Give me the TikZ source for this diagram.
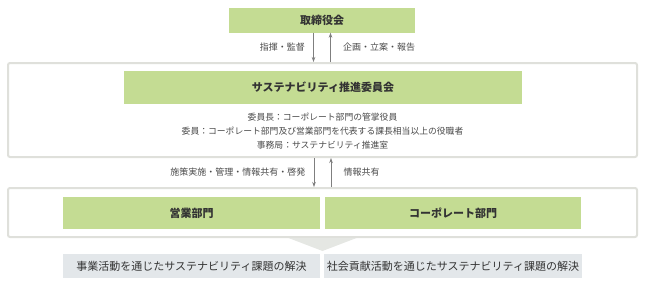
\documentclass[tikz,border=0pt]{standalone}
\usepackage{fontspec}
\setmainfont{Noto Sans CJK JP}
\usepackage{xcolor}
\usepackage{tikz}
\usetikzlibrary{arrows.meta, positioning, calc}
\definecolor{sustgreen}{HTML}{C4DC93}
\definecolor{sustframe}{HTML}{DFE0DB}
\definecolor{sustgray}{HTML}{E3E7EA}
\definecolor{sustwedge}{HTML}{E5E7E3}
\definecolor{sustarrow}{HTML}{7F7F7F}
\definecolor{susttext}{HTML}{333333}
\definecolor{sustbody}{HTML}{4A4A4A}

\begin{document}
\begin{tikzpicture}[
  x=1pt, y=-1pt,
  head/.style={fill=sustgreen, minimum height=33pt, inner sep=1mm, font=\fontsize{11}{13}\selectfont\bfseries, text=susttext},
  frame/.style={draw=sustframe, line width=2pt, rounded corners=2pt, fill=white, minimum width=629pt},
  result/.style={fill=sustgray, minimum width=256pt, minimum height=24pt, inner sep=1mm, font=\fontsize{11}{13}\selectfont, text=susttext},
  arr/.style={-{Stealth[length=5pt, width=3.5pt]}, sustarrow, line width=0.6pt},
  lbl/.style={font=\fontsize{9}{11}\selectfont, text=sustbody}
]
\useasboundingbox (0,0) rectangle (645,287);

\node[head, minimum width=186pt, minimum height=25pt] (board) at (322,20) {取締役会};

\node[frame, minimum height=94pt] (upper) at (322.5,110) {};
\node[head, minimum width=398pt] (committee) at (323,87.5) {サステナビリティ推進委員会};
\node[lbl, align=center, font=\fontsize{8.8}{14}\selectfont] (members) at (322.5,131) {委員長：コーポレート部門の管掌役員\\ 委員：コーポレート部門及び営業部門を代表する課長相当以上の役職者\\ 事務局：サステナビリティ推進室};

\node[frame, minimum height=49pt] (lower) at (322.5,212.5) {};
\node[head, minimum width=257pt, minimum height=32pt] (sales) at (191.5,213) {営業部門};
\node[head, minimum width=256pt, minimum height=32pt] (corporate) at (453,213) {コーポレート部門};

\fill[sustwedge] ($(lower.south)+(-34,0)$) -- ($(lower.south)+(34,0)$) -- ($(lower.south)+(0,13)$) -- cycle;

\node[result, minimum width=257pt] (business) at (191.5,266) {事業活動を通じたサステナビリティ課題の解決};
\node[result] (social) at (453,266) {社会貢献活動を通じたサステナビリティ課題の解決};

\draw[arr] ([xshift=-8.5pt]board.south) -- node[lbl, midway, left=5pt] {指揮・監督} ([xshift=-8.5pt]board.south |- upper.north);
\draw[arr] ([xshift=8.5pt]board.south |- upper.north) -- node[lbl, midway, right=9pt] {企画・立案・報告} ([xshift=8.5pt]board.south);
\draw[arr] ([xshift=-8.5pt]upper.south) -- node[lbl, midway, left=5pt] {施策実施・管理・情報共有・啓発} ([xshift=-8.5pt]lower.north);
\draw[arr] ([xshift=8.5pt]lower.north) -- node[lbl, midway, right=9pt] {情報共有} ([xshift=8.5pt]upper.south);
\end{tikzpicture}
\end{document}
